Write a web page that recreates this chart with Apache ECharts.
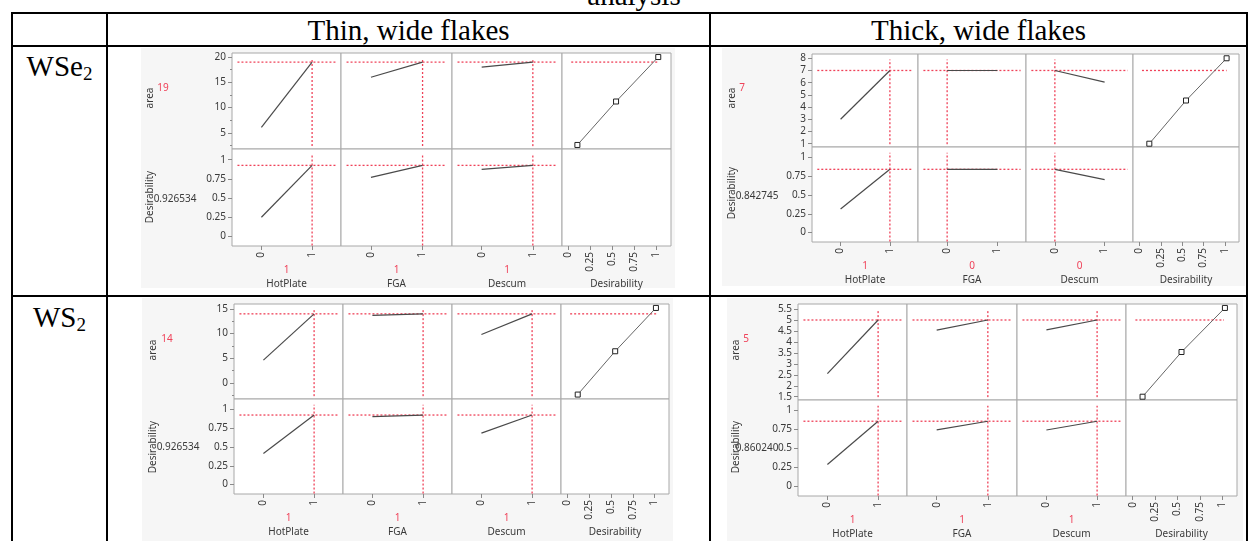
<!DOCTYPE html>
<html>
<head>
<meta charset="utf-8">
<script src="https://cdn.jsdelivr.net/npm/echarts@6/dist/echarts.min.js"></script>
<style>
  body { margin: 0; width: 1248px; height: 541px; overflow: hidden; position: relative; background: #fff; font-family: 'Liberation Serif', 'Times New Roman', serif; }
  .ln { position: absolute; background: #000; }
  .bg { position: absolute; background: #f6f6f6; }
  .hd { position: absolute; text-align: center; font-size: 29px; line-height: 34px; color: #000; white-space: nowrap; }
  .rl { position: absolute; text-align: center; font-size: 29px; line-height: 29px; color: #000; }
  .rl sub { font-size: 19px; vertical-align: -4px; line-height: 0; }
  #chart { position: absolute; left: 0; top: 0; width: 1248px; height: 541px; }
</style>
</head>
<body>
<div class="hd" style="left:534px;top:-22px;width:200px;">analysis</div>
<!-- table rules -->
<div class="ln" style="left:11px;top:12px;width:1237px;height:2px;"></div>
<div class="ln" style="left:11px;top:45px;width:1237px;height:2px;"></div>
<div class="ln" style="left:11px;top:295px;width:1237px;height:2px;"></div>
<div class="ln" style="left:11px;top:12px;width:2px;height:529px;"></div>
<div class="ln" style="left:106px;top:12px;width:2px;height:529px;"></div>
<div class="ln" style="left:709px;top:12px;width:2px;height:529px;"></div>
<div class="ln" style="left:1246px;top:12px;width:2px;height:529px;"></div>
<div class="hd" style="left:108px;top:13px;width:601px;">Thin, wide flakes</div>
<div class="hd" style="left:711px;top:13px;width:535px;">Thick, wide flakes</div>
<div class="rl" style="left:13px;top:52px;width:93px;">WSe<sub>2</sub></div>
<div class="rl" style="left:13px;top:303px;width:93px;">WS<sub>2</sub></div>
<!-- profiler backgrounds -->
<div class="bg" style="left:141px;top:48px;width:534px;height:240px;"></div>
<div class="bg" style="left:722px;top:48px;width:523px;height:238px;"></div>
<div class="bg" style="left:142px;top:298px;width:531px;height:243px;"></div>
<div class="bg" style="left:727px;top:298px;width:516px;height:243px;"></div>
<div id="chart"></div>

<script>
const factors = ['HotPlate', 'FGA', 'Descum'];
const factorTicks = [0, 1];
const desTicks = [0, 0.25, 0.5, 0.75, 1];

// Thin, wide flakes / WSe2
const thinWse2Settings = [1, 1, 1];
const thinWse2AreaAt0 = [6.1, 16, 18];
const thinWse2AreaAt1 = [19, 19, 19];
const thinWse2DesAt0 = [0.25, 0.77, 0.875];
const thinWse2DesAt1 = [0.9265, 0.9265, 0.9265];
const thinWse2Curve = [[0.1, 2.6], [0.54, 11.2], [1.02, 20]];
const thinWse2Area = 19;
const thinWse2Des = '0.926534';
const thinWse2AreaTicks = [5, 10, 15, 20];
const thinWse2AreaMinor = [2.5, 7.5, 12.5, 17.5];

// Thick, wide flakes / WSe2
const thickWse2Settings = [1, 0, 0];
const thickWse2AreaAt0 = [3, 7, 7];
const thickWse2AreaAt1 = [7, 7, 6.05];
const thickWse2DesAt0 = [0.315, 0.843, 0.843];
const thickWse2DesAt1 = [0.843, 0.843, 0.705];
const thickWse2Curve = [[0.116, 1], [0.545, 4.54], [1.02, 8]];
const thickWse2Area = 7;
const thickWse2Des = '0.842745';
const thickWse2AreaTicks = [1, 2, 3, 4, 5, 6, 7, 8];
const thickWse2AreaMinor = [];

// Thin, wide flakes / WS2
const thinWs2Settings = [1, 1, 1];
const thinWs2AreaAt0 = [4.6, 13.7, 9.8];
const thinWs2AreaAt1 = [14, 14, 14];
const thinWs2DesAt0 = [0.415, 0.905, 0.685];
const thinWs2DesAt1 = [0.9265, 0.9265, 0.9265];
const thinWs2Curve = [[0.117, -2.4], [0.547, 6.4], [1.015, 15.2]];
const thinWs2Area = 14;
const thinWs2Des = '0.926534';
const thinWs2AreaTicks = [0, 5, 10, 15];
const thinWs2AreaMinor = [-2.5, 2.5, 7.5, 12.5];

// Thick, wide flakes / WS2
const thickWs2Settings = [1, 1, 1];
const thickWs2AreaAt0 = [2.55, 4.54, 4.55];
const thickWs2AreaAt1 = [5, 5, 5];
const thickWs2DesAt0 = [0.29, 0.746, 0.745];
const thickWs2DesAt1 = [0.86, 0.86, 0.86];
const thickWs2Curve = [[0.11, 1.5], [0.545, 3.54], [1.03, 5.55]];
const thickWs2Area = 5;
const thickWs2Des = '0.860240';
const thickWs2AreaTicks = [1.5, 2, 2.5, 3, 3.5, 4, 4.5, 5, 5.5];
const thickWs2AreaMinor = [];

// ---- layout of each profiler on the page ----
const profiles = [
  { settings: thinWse2Settings, a0: thinWse2AreaAt0, a1: thinWse2AreaAt1, d0: thinWse2DesAt0, d1: thinWse2DesAt1,
    curve: thinWse2Curve, area: thinWse2Area, des: thinWse2Des, ticks: thinWse2AreaTicks, minor: thinWse2AreaMinor,
    xe: [232, 341, 452, 562, 671], ye: [53, 149, 246], areaRange: [1.8, 20.8],
    nameX: 150, areaY: 98, desY: 197, valX: 163, valY: 88, desValX: 175, desValY: 199 },
  { settings: thickWse2Settings, a0: thickWse2AreaAt0, a1: thickWse2AreaAt1, d0: thickWse2DesAt0, d1: thickWse2DesAt1,
    curve: thickWse2Curve, area: thickWse2Area, des: thickWse2Des, ticks: thickWse2AreaTicks, minor: thickWse2AreaMinor,
    xe: [812, 918, 1026, 1133, 1239], ye: [54, 147, 242], areaRange: [0.73, 8.35],
    nameX: 732, areaY: 98, desY: 193, valX: 742, valY: 88, desValX: 757, desValY: 196 },
  { settings: thinWs2Settings, a0: thinWs2AreaAt0, a1: thinWs2AreaAt1, d0: thinWs2DesAt0, d1: thinWs2DesAt1,
    curve: thinWs2Curve, area: thinWs2Area, des: thinWs2Des, ticks: thinWs2AreaTicks, minor: thinWs2AreaMinor,
    xe: [234, 343, 452, 561, 669], ye: [304, 399, 494], areaRange: [-3.3, 16],
    nameX: 153, areaY: 350, desY: 447, valX: 167, valY: 339, desValX: 178, desValY: 447 },
  { settings: thickWs2Settings, a0: thickWs2AreaAt0, a1: thickWs2AreaAt1, d0: thickWs2DesAt0, d1: thickWs2DesAt1,
    curve: thickWs2Curve, area: thickWs2Area, des: thickWs2Des, ticks: thickWs2AreaTicks, minor: thickWs2AreaMinor,
    xe: [798, 907, 1017, 1126, 1237], ye: [304, 400, 496], areaRange: [1.35, 5.73],
    nameX: 736, areaY: 350, desY: 447, valX: 746, valY: 339, desValX: 757, desValY: 448 }
];

const FONT = 'Noto Sans';
const RED = '#ef4259';
const TXT = '#3a3a3a';
const factorRange = [-0.58, 1.57];
const desXRange = [-0.075, 1.165];
const desYRange = [-0.125, 1.14];

const grid = [], xAxis = [], yAxis = [], series = [], graphic = [];

function label(text, x, y, color, rot) {
  graphic.push({
    type: 'text', x: x, y: y, rotation: rot ? Math.PI / 2 : 0, silent: true,
    style: { text: text, fill: color || TXT, fontSize: 10, fontFamily: FONT, align: 'center', verticalAlign: 'middle' }
  });
}

function refLine(xi, yi, data) {
  series.push({
    type: 'line', xAxisIndex: xi, yAxisIndex: yi, data: data, symbol: 'none', silent: true, z: 1,
    lineStyle: { color: RED, width: 1.3, type: [2, 2] }
  });
}

profiles.forEach(function (p) {
  for (let r = 0; r < 2; r++) {
    for (let c = 0; c < 4; c++) {
      const gi = grid.length;
      const isDes = c === 3;
      const xr = isDes ? desXRange : factorRange;
      const yr = r === 0 ? p.areaRange : desYRange;
      grid.push({
        left: p.xe[c], top: p.ye[r], width: p.xe[c + 1] - p.xe[c], height: p.ye[r + 1] - p.ye[r],
        show: true, backgroundColor: '#fff', borderColor: '#a8a8a8', borderWidth: 1
      });
      const xi = xAxis.length;
      const xt = isDes ? desTicks : factorTicks;
      xAxis.push({
        type: 'value', gridIndex: gi, min: xr[0], max: xr[1], position: 'bottom',
        axisLine: { show: false, onZero: false }, splitLine: { show: false },
        axisTick: { show: r === 1, customValues: xt, length: 4, lineStyle: { color: '#8a8a8a' } },
        axisLabel: { show: r === 1, customValues: xt, rotate: 90, margin: 6, fontSize: 10, color: TXT, fontFamily: FONT }
      });
      const yi = yAxis.length;
      const yt = r === 0 ? p.ticks : desTicks;
      yAxis.push({
        type: 'value', gridIndex: gi, min: yr[0], max: yr[1], position: 'left',
        axisLine: { show: false, onZero: false }, splitLine: { show: false },
        axisTick: { show: c === 0, customValues: yt, length: 4, lineStyle: { color: '#8a8a8a' } },
        axisLabel: { show: c === 0, customValues: yt, margin: 6, fontSize: 10, color: TXT, fontFamily: FONT }
      });
      if (c === 0 && r === 0 && p.minor.length) {
        yAxis.push({
          type: 'value', gridIndex: gi, min: yr[0], max: yr[1], position: 'left',
          axisLine: { show: false, onZero: false }, splitLine: { show: false }, axisLabel: { show: false },
          axisTick: { show: true, customValues: p.minor, length: 2, lineStyle: { color: '#8a8a8a' } }
        });
      }

      const xIn = (xr[1] - xr[0]) * 0.05;
      const yTop = yr[1] - (yr[1] - yr[0]) * 0.06;
      const yBot = yr[0] + (yr[1] - yr[0]) * (r === 0 ? 0.03 : 0.005);
      const cur = r === 0 ? p.area : Number(p.des);

      if (!isDes) {
        const s = p.settings[c];
        refLine(xi, yi, [[s, yBot], [s, yTop]]);
        refLine(xi, yi, [[xr[0] + xIn, cur], [xr[1] - xIn, cur]]);
        const v0 = r === 0 ? p.a0[c] : p.d0[c];
        const v1 = r === 0 ? p.a1[c] : p.d1[c];
        series.push({
          type: 'line', xAxisIndex: xi, yAxisIndex: yi, data: [[0, v0], [1, v1]], symbol: 'none', silent: true, z: 3,
          lineStyle: { color: '#4a4a4a', width: 1.2 }
        });
      } else if (r === 0) {
        refLine(xi, yi, [[0.03, cur], [1.02, cur]]);
        series.push({
          type: 'line', xAxisIndex: xi, yAxisIndex: yi, data: p.curve, silent: true, z: 3,
          symbol: 'rect', symbolSize: 5,
          itemStyle: { color: '#fff', borderColor: '#222', borderWidth: 1 },
          lineStyle: { color: '#666', width: 1 }
        });
      }
    }
  }

  // left-hand response labels
  label('area', p.nameX, p.areaY, TXT, true);
  label(String(p.area), p.valX, p.valY, RED);
  label('Desirability', p.nameX, p.desY, TXT, true);
  label(p.des, p.desValX, p.desValY, TXT);
  // bottom factor labels
  for (let c = 0; c < 4; c++) {
    const cx = (p.xe[c] + p.xe[c + 1]) / 2;
    if (c < 3) {
      label(String(p.settings[c]), cx, p.ye[2] + 24, RED);
      label(factors[c], cx, p.ye[2] + 38, TXT);
    } else {
      label('Desirability', cx, p.ye[2] + 38, TXT);
    }
  }
});

const chart = echarts.init(document.getElementById('chart'));
chart.setOption({
  animation: false,
  grid: grid,
  xAxis: xAxis,
  yAxis: yAxis,
  series: series,
  graphic: graphic
});
window.addEventListener('resize', function () { chart.resize(); });
</script>
</body>
</html>
